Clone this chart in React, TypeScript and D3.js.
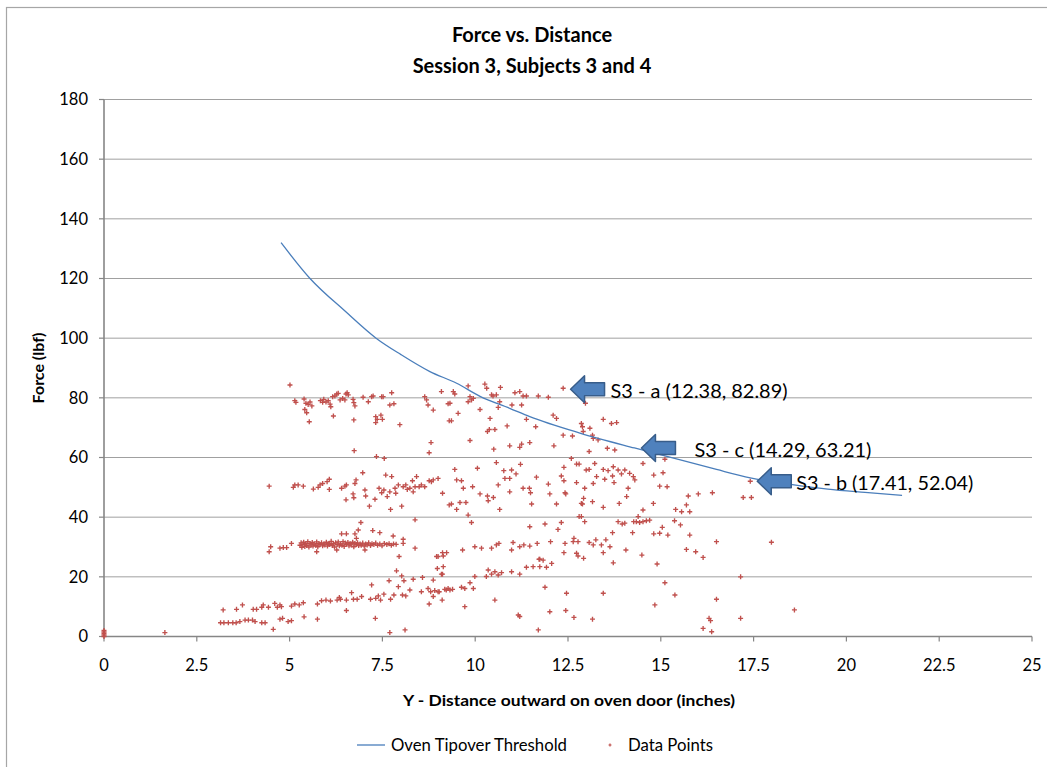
import React from "react";
import * as d3 from "d3";

// ---------- DATA ----------
const titleLines = ["Force vs. Distance", "Session 3, Subjects 3 and 4"];
const xTicks = [0, 2.5, 5, 7.5, 10, 12.5, 15, 17.5, 20, 22.5, 25];
const yTicks = [0, 20, 40, 60, 80, 100, 120, 140, 160, 180];
const xTitle = "Y - Distance outward on oven door (inches)";
const yTitle = "Force (lbf)";
const seriesNames = ["Oven Tipover Threshold", "Data Points"];

// Oven tipover threshold curve (x inches, force lbf)
const thresholdX = [4.77, 5.55, 6.5, 7.33, 8.0, 8.78, 9.5, 10.13, 10.93, 11.47, 12.82, 14.29, 15.5, 16.5, 17.41, 18.5, 19.5, 20.5, 21.5];
const thresholdY = [132, 120, 109, 100, 94.5, 88.8, 84.9, 80.5, 76.5, 73.7, 68.2, 63.2, 59.3, 56.0, 53.2, 51.0, 49.4, 48.3, 47.3];

// Annotations
const annotations: [string, number, number][] = [
  ["S3 - a (12.38, 82.89)", 12.38, 82.89],
  ["S3 - c (14.29, 63.21)", 14.29, 63.21],
  ["S3 - b (17.41, 52.04)", 17.41, 52.04],
];
const annotationLabelGap = [40, 53, 39];

// Data points: [x, force]
const originPoints: [number, number][] = [
  [0, 0], [0, 0.5], [0, 1.0], [0, 1.5], [0, 2.0], [1.64, 1.3],
];

const cluster80: [number, number][] = [
  [5.01, 84.3], [5.14, 79.05], [5.17, 78.5], [5.39, 79.6], [5.44, 78.2], [5.5, 77.8], [5.55, 78.6], [5.6, 77.3],
  [5.41, 76.1], [5.46, 75.0], [5.53, 72.0], [5.83, 79.05], [5.89, 78.5], [5.92, 79.5], [5.98, 78.6], [6.04, 79.05],
  [6.09, 77.9], [6.11, 77.0], [6.16, 80.4], [6.22, 80.6], [6.27, 81.3], [6.31, 81.5], [6.36, 79.3], [6.43, 79.8],
  [6.49, 79.3], [6.52, 81.3], [6.55, 81.7], [6.58, 81.0], [6.71, 79.5], [6.73, 78.4], [6.76, 77.3], [6.73, 72.6],
  [6.18, 73.9], [6.98, 80.2], [7.12, 78.7], [7.21, 80.4], [7.25, 80.6], [7.32, 73.7], [7.32, 71.7], [7.36, 72.8],
  [7.46, 74.2], [7.5, 72.8], [7.48, 80.4], [7.52, 80.4], [7.7, 77.6], [7.75, 81.7], [7.81, 78.0], [7.97, 71.0],
  [8.64, 80.4], [8.69, 79.3], [8.73, 77.6], [8.87, 75.9], [9.09, 82.1], [9.27, 78.0], [9.3, 72.3],
  [9.41, 82.1], [9.45, 81.3], [9.81, 84.0], [9.86, 80.4], [9.9, 79.3], [9.81, 78.7], [9.95, 79.8], [10.26, 84.6],
  [10.31, 83.2], [10.44, 81.0], [10.48, 80.6], [10.57, 81.0], [10.68, 83.5], [10.66, 78.7], [10.62, 76.8],
  [10.99, 77.6], [11.07, 81.7], [11.2, 82.1], [11.25, 77.6], [11.29, 80.6], [11.38, 80.6], [11.7, 80.6],
  [11.97, 80.2], [12.37, 83.2], [12.97, 78.2], [9.32, 78.2], [9.54, 74.8], [9.36, 72.3], [10.13, 76.1],
  [10.4, 73.1], [10.38, 69.4], [10.33, 68.7], [10.53, 69.4], [10.86, 70.6], [11.38, 72.8], [11.63, 70.3],
  [12.1, 74.2], [12.19, 73.1], [12.37, 67.5], [12.62, 67.2], [12.86, 71.4], [12.89, 70.3], [12.91, 68.7],
  [13.09, 69.8], [13.16, 67.5], [13.18, 66.4], [13.31, 65.9], [13.45, 72.8], [13.67, 71.4], [13.81, 71.7],
];

const cluster60: [number, number][] = [
  [6.74, 62.3], [7.34, 60.3], [7.55, 59.7], [8.81, 65.0], [8.76, 61.6], [13.56, 63.1], [13.76, 62.5], [13.07, 62.0],
  [9.86, 65.7], [10.5, 62.8], [10.93, 63.9], [11.2, 63.4], [11.25, 64.5], [11.47, 65.0], [12.12, 63.9],
  [9.45, 56.0], [10.06, 56.4], [10.57, 58.3], [10.77, 55.6], [10.98, 55.8], [11.22, 57.7], [12.39, 56.7],
  [12.59, 59.7], [12.73, 57.8], [12.8, 57.8], [12.99, 55.8], [13.07, 56.0], [13.22, 58.0], [13.45, 56.0],
  [13.58, 55.6], [13.72, 56.9], [13.85, 55.8], [14.03, 55.8], [14.52, 58.0], [15.06, 54.9], [15.11, 59.4],
];

const cluster50: [number, number][] = [
  [4.45, 50.4], [5.1, 50.0], [5.14, 50.8], [5.23, 50.8], [5.37, 50.4], [5.64, 49.4], [5.77, 50.0], [5.82, 50.8],
  [5.89, 51.3], [6.01, 51.9], [6.07, 52.7], [6.07, 49.3], [6.4, 49.7], [6.49, 50.4], [6.53, 50.8], [6.76, 51.3],
  [6.79, 52.5], [6.97, 54.9], [6.52, 45.8], [6.71, 47.8], [6.73, 46.5], [7.03, 49.1], [7.05, 47.1], [7.15, 43.7],
  [7.3, 46.0], [7.41, 49.7], [7.48, 48.2], [7.54, 49.1], [7.59, 54.1], [7.63, 46.9], [7.7, 48.5], [7.75, 53.6],
  [7.72, 42.6], [7.84, 49.7], [7.86, 48.0], [7.93, 50.8], [8.02, 43.7], [8.06, 50.2], [8.13, 50.8], [8.17, 49.3],
  [8.24, 49.7], [8.31, 52.2], [8.33, 48.5], [8.38, 50.2], [8.42, 53.6], [8.49, 50.2], [8.55, 50.8], [8.64, 50.2],
  [8.76, 52.2], [8.87, 52.5], [9.0, 53.0], [9.12, 48.0], [9.3, 44.1], [8.82, 51.9], [9.5, 52.5], [9.63, 52.2],
  [9.68, 49.7], [9.36, 44.4], [9.59, 44.9], [9.75, 44.9], [9.5, 42.6], [9.81, 40.7], [9.93, 50.2], [10.13, 47.8],
  [10.33, 47.1], [10.35, 45.5], [10.49, 46.6], [10.62, 50.8], [10.66, 42.6], [10.8, 53.0], [10.93, 53.0],
  [10.93, 48.5], [11.1, 54.5], [11.29, 49.7], [11.46, 49.7], [11.49, 48.2], [11.52, 44.4], [11.65, 53.4],
  [11.97, 51.1], [12.01, 47.8], [12.19, 44.4], [12.32, 53.8], [12.39, 52.2], [12.42, 48.2], [12.44, 47.8],
  [12.73, 51.6], [12.86, 44.6], [12.89, 44.4], [12.92, 46.3], [12.95, 49.7], [13.16, 45.2], [13.18, 51.3],
  [13.27, 53.6], [13.45, 43.3], [13.49, 52.7], [13.7, 53.8], [13.74, 51.6], [13.88, 44.6], [13.94, 54.5],
  [14.08, 46.9], [14.12, 49.7], [14.16, 54.7], [14.26, 53.6], [14.3, 52.5], [14.52, 42.4], [14.8, 44.6],
  [14.81, 54.1], [14.97, 50.4], [15.17, 50.2], [15.4, 42.6], [15.56, 41.8], [15.69, 44.1], [15.74, 47.1],
  [15.78, 41.8], [16.01, 47.8], [16.39, 48.2], [17.22, 46.6], [17.44, 46.6], [17.41, 52.04], [8.38, 39.1],
];

const cluster30: [number, number][] = [
  [4.45, 28.4], [4.49, 30.1], [4.74, 29.6], [4.83, 29.8], [4.92, 29.8], [5.05, 31.2],
  [5.28, 30.6], [5.31, 31.4], [5.33, 29.9], [5.36, 30.9], [5.38, 31.6], [5.41, 30.2], [5.44, 31.1], [5.46, 30.5],
  [5.49, 31.8], [5.52, 30.0], [5.55, 31.2], [5.58, 30.7], [5.61, 31.5], [5.63, 30.3], [5.66, 31.0], [5.7, 30.6],
  [5.73, 31.7], [5.76, 30.1], [5.79, 31.2], [5.82, 30.8], [5.86, 31.4], [5.89, 30.4], [5.92, 31.0], [5.95, 30.7],
  [5.99, 31.6], [6.02, 30.3], [6.05, 31.1], [6.08, 30.8], [6.12, 31.9], [6.15, 30.5], [6.18, 31.2], [6.21, 30.0],
  [6.24, 31.4], [6.28, 30.8], [6.31, 31.7], [6.34, 30.4], [6.37, 31.0], [6.41, 30.6], [6.44, 31.8], [6.47, 30.2],
  [6.5, 31.3], [6.53, 30.9], [6.57, 31.5], [6.6, 30.4], [6.63, 31.1], [6.66, 30.7], [6.7, 31.6], [6.73, 30.1],
  [6.76, 31.2], [6.8, 30.8], [6.83, 31.4], [6.86, 30.5], [6.9, 31.0], [6.93, 30.6], [6.97, 31.3], [7.01, 30.3],
  [7.05, 31.0], [7.09, 30.7], [7.13, 31.4], [7.18, 30.5], [7.22, 31.1], [7.27, 30.8], [7.32, 31.3], [7.37, 30.6],
  [7.43, 31.0], [7.49, 30.4], [7.55, 31.2], [7.62, 30.8], [7.68, 31.1], [7.74, 30.6], [7.8, 31.0], [7.87, 30.9],
  [6.4, 34.4], [6.53, 34.4], [6.76, 34.4], [6.85, 35.7], [6.92, 38.2], [6.8, 32.9], [7.24, 35.5], [7.43, 34.8],
  [7.79, 33.7], [8.06, 32.6], [8.06, 31.2], [8.38, 29.6], [5.73, 28.4], [6.27, 29.0], [7.03, 29.0], [7.95, 26.8],
  [8.96, 26.8], [9.12, 28.1], [9.23, 28.1], [9.14, 23.4], [9.12, 20.9], [9.66, 29.0], [9.9, 38.2], [9.99, 30.1],
  [10.17, 29.6], [10.44, 29.6], [10.57, 30.7], [10.64, 31.2], [10.98, 29.0], [11.02, 31.5], [11.2, 30.1],
  [11.31, 30.7], [11.47, 36.8], [11.47, 30.3], [11.67, 31.2], [11.74, 25.9], [11.88, 37.7], [11.83, 25.6],
  [12.03, 31.8], [12.06, 24.5], [12.23, 35.9], [12.32, 38.2], [12.39, 28.1], [12.42, 31.2], [12.64, 31.8],
  [12.66, 32.9], [12.77, 31.8], [12.73, 27.9], [12.77, 27.0], [12.8, 40.2], [12.86, 40.2], [12.92, 26.2],
  [12.95, 38.5], [13.07, 31.5], [13.18, 30.7], [13.25, 32.4], [13.4, 30.7], [13.45, 28.1], [13.52, 32.4],
  [13.63, 30.1], [13.7, 34.8], [13.72, 24.7], [13.85, 38.5], [13.96, 37.7], [14.03, 38.0], [14.06, 29.0],
  [14.24, 34.8], [14.27, 38.5], [14.34, 38.5], [14.39, 40.2], [14.43, 38.2], [14.52, 38.5], [14.61, 38.8],
  [14.7, 39.0], [14.49, 27.3], [14.81, 34.4], [14.9, 24.3], [14.97, 34.6], [15.04, 36.6], [15.19, 34.0],
  [15.37, 38.8], [15.53, 37.4], [15.69, 29.2], [15.78, 34.0], [15.94, 28.4], [16.14, 26.5], [16.5, 31.8],
  [17.98, 31.6],
];

const cluster10: [number, number][] = [
  [3.21, 8.9], [3.57, 9.1], [3.73, 10.6], [4.02, 9.1], [4.11, 9.1], [4.25, 9.8], [4.29, 10.6], [4.43, 9.8],
  [4.6, 11.1], [4.67, 9.8], [4.74, 10.6], [4.78, 10.0], [5.05, 10.2], [5.14, 10.9], [5.26, 10.6], [5.37, 11.3],
  [5.39, 6.6], [5.75, 10.9], [5.86, 12.0], [5.98, 12.2], [6.1, 11.9], [6.28, 12.2], [6.34, 13.1], [6.37, 12.5],
  [6.53, 12.2], [6.53, 8.7], [6.67, 14.7], [6.72, 12.5], [6.82, 12.5], [6.94, 13.4], [7.21, 17.3], [7.18, 12.5],
  [7.32, 12.8], [7.39, 13.6], [7.45, 12.2], [7.54, 14.2], [7.31, 6.1], [7.68, 18.7], [7.72, 12.5], [7.81, 13.9],
  [7.88, 22.0], [7.93, 16.7], [8.02, 20.3], [8.04, 13.9], [8.08, 18.7], [8.13, 13.6], [8.24, 15.6], [8.33, 19.2],
  [8.55, 15.0], [8.58, 19.8], [8.73, 16.1], [8.76, 10.9], [8.8, 15.0], [8.87, 13.4], [9.0, 15.0], [8.98, 22.8],
  [9.0, 26.8], [9.09, 20.9], [9.14, 27.0], [9.22, 15.6], [9.27, 16.1], [8.87, 18.9], [8.91, 15.4], [9.03, 15.0],
  [9.18, 15.8], [9.32, 15.6], [9.39, 15.8], [9.63, 16.5], [9.72, 16.1], [9.86, 18.0], [9.95, 16.1], [9.99, 20.1],
  [10.3, 20.1], [10.35, 22.3], [10.44, 20.9], [10.53, 21.7], [10.62, 20.6], [10.71, 21.4], [10.98, 21.7],
  [11.2, 20.9], [11.38, 23.2], [11.56, 23.4], [11.74, 23.4], [11.92, 23.2], [11.72, 25.9], [9.11, 12.2],
  [9.72, 10.0], [10.53, 12.2], [11.88, 16.5], [12.46, 14.5], [13.45, 14.5], [15.11, 18.0], [15.38, 13.9],
  [16.5, 12.5], [17.15, 20.0], [14.84, 10.6],
];

const cluster0: [number, number][] = [
  [3.14, 4.6], [3.23, 4.6], [3.35, 4.6], [3.47, 4.6], [3.56, 4.6], [3.66, 5.0], [3.8, 5.5], [3.89, 5.5],
  [4.0, 5.5], [4.07, 5.0], [4.25, 4.6], [4.34, 4.6], [4.56, 2.4], [4.74, 5.8], [4.81, 6.1], [4.96, 5.0],
  [5.05, 5.3], [5.75, 5.8], [7.7, 1.3], [8.11, 2.2], [11.16, 7.2], [11.2, 6.7], [11.7, 2.2], [12.01, 8.3],
  [12.44, 8.7], [12.66, 6.4], [13.16, 5.8], [16.14, 2.7], [16.3, 6.1], [16.34, 5.3], [16.37, 1.6], [17.15, 6.1],
  [18.6, 8.9],
];

// ---------- LAYOUT ----------
const W = 1047;
const H = 767;
const FONT = "Lato, 'Open Sans', sans-serif";
const RED = "#c0504d";
const BLUE = "#4a7ebb";

export default function App() {
  const x = d3.scaleLinear().domain([0, 25]).range([104, 1032]);
  const y = d3.scaleLinear().domain([0, 180]).range([636.5, 99.5]);

  const thresholdPts: [number, number][] = thresholdX.map((v, i) => [v, thresholdY[i]]);
  const line = d3
    .line<[number, number]>()
    .x((d) => x(d[0]))
    .y((d) => y(d[1]))
    .curve(d3.curveMonotoneX);

  const allPoints = [
    ...originPoints,
    ...cluster80,
    ...cluster60,
    ...cluster50,
    ...cluster30,
    ...cluster10,
    ...cluster0,
  ];

  const plus = "M-2.5,0H2.5M0,-2.5V2.5";
  const arrowPath = "M0,0L14,-13.5L14,-6.5L34,-6.5L34,6.5L14,6.5L14,13.5Z";

  return (
    <svg
      width={W}
      height={H}
      style={{ position: "absolute", left: 0, top: 0, background: "#fff" }}
      fontFamily={FONT}
    >
      <rect x={0} y={0} width={W} height={H} fill="#fff" />
      {/* chart border */}
      <rect x={6.5} y={7.5} width={W + 20} height={H + 20} fill="none" stroke="#a6a6a6" strokeWidth={1.2} />

      {/* title */}
      <text x={532} y={42} textAnchor="middle" fontWeight="bold" fontSize={20} fill="#000">
        {titleLines[0]}
      </text>
      <text x={532} y={73} textAnchor="middle" fontWeight="bold" fontSize={20} fill="#000">
        {titleLines[1]}
      </text>

      {/* gridlines */}
      {yTicks
        .filter((t) => t > 0)
        .map((t) => (
          <line key={"g" + t} x1={x(0)} x2={x(25)} y1={y(t)} y2={y(t)} stroke="#a0a0a0" strokeWidth={1} />
        ))}

      {/* axes */}
      <line x1={x(0)} x2={x(0)} y1={y(180)} y2={y(0)} stroke="#868686" strokeWidth={1.6} />
      <line x1={x(0)} x2={x(25)} y1={y(0)} y2={y(0)} stroke="#868686" strokeWidth={1.6} />
      {yTicks.map((t) => (
        <g key={"yt" + t}>
          <line x1={x(0) - 5} x2={x(0)} y1={y(t)} y2={y(t)} stroke="#868686" strokeWidth={1.2} />
          <text x={88} y={y(t)} dy="0.35em" textAnchor="end" fontSize={16.5} fill="#000">
            {t}
          </text>
        </g>
      ))}
      {xTicks.map((t) => (
        <g key={"xt" + t}>
          <line x1={x(t)} x2={x(t)} y1={y(0)} y2={y(0) + 5} stroke="#868686" strokeWidth={1.2} />
          <text x={x(t)} y={665} dy="0.35em" textAnchor="middle" fontSize={16.5} fill="#000">
            {t}
          </text>
        </g>
      ))}

      {/* axis titles */}
      <text x={569} y={700} dy="0.35em" textAnchor="middle" fontWeight="bold" fontSize={16} fill="#000"
        textLength={332} lengthAdjust="spacingAndGlyphs">
        {xTitle}
      </text>
      <text
        transform={`translate(38, ${(y(0) + y(180)) / 2}) rotate(-90)`}
        textAnchor="middle"
        dy="0.35em"
        fontWeight="bold"
        fontSize={16}
        fill="#000"
      >
        {yTitle}
      </text>

      {/* data points */}
      <g stroke={RED} strokeWidth={1.35} fill="none">
        {allPoints.map((p, i) => (
          <path key={"p" + i} d={plus} transform={`translate(${x(p[0])},${y(p[1])})`} />
        ))}
      </g>

      {/* threshold line */}
      <path d={line(thresholdPts) || ""} fill="none" stroke={BLUE} strokeWidth={1.3} />

      {/* annotations */}
      {annotations.map((a, i) => {
        const tx = x(a[1]) + 7;
        const ty = y(a[2]);
        return (
          <g key={"a" + i}>
            <path
              d={arrowPath}
              transform={`translate(${tx},${ty})`}
              fill="#4f81bd"
              stroke="#385d8a"
              strokeWidth={1.5}
              strokeLinejoin="round"
            />
            <text x={tx + annotationLabelGap[i]} y={ty + 2} dy="0.35em" fontSize={20} fill="#000"
              textLength={177} lengthAdjust="spacingAndGlyphs">
              {a[0]}
            </text>
          </g>
        );
      })}

      {/* legend */}
      <line x1={357} x2={385} y1={745} y2={745} stroke={BLUE} strokeWidth={1.3} />
      <text x={391} y={745} dy="0.35em" fontSize={16.5} fill="#000" textLength={176} lengthAdjust="spacingAndGlyphs">
        {seriesNames[0]}
      </text>
      <path d="M-1.5,0H1.5M0,-1.5V1.5" transform="translate(610,745)" stroke={RED} strokeWidth={1.2} />
      <text x={628} y={745} dy="0.35em" fontSize={16.5} fill="#000" textLength={85} lengthAdjust="spacingAndGlyphs">
        {seriesNames[1]}
      </text>
    </svg>
  );
}
